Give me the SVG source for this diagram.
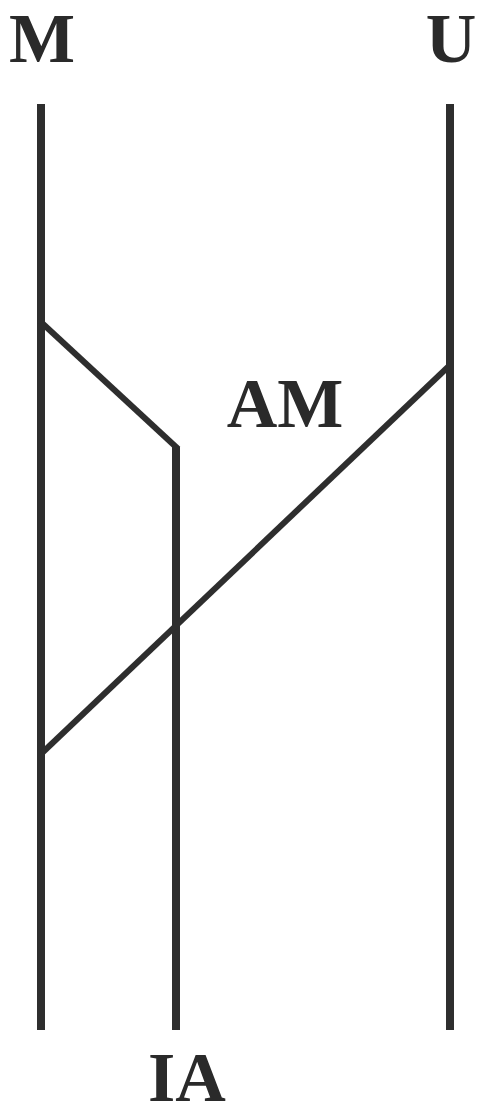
<svg xmlns="http://www.w3.org/2000/svg" width="477" height="1117" viewBox="0 0 477 1117">
<style>
.lbl{font-family:"Liberation Serif","Times New Roman",serif;font-weight:bold;font-size:70px;fill:#2a2a2a}
.ln{stroke:#2e2e2e;fill:none;stroke-width:8}
.dg{stroke:#2e2e2e;fill:none;stroke-width:6}
</style>
<rect width="477" height="1117" fill="#ffffff"/>
<g id="M"><line class="ln" x1="41" y1="104" x2="41" y2="1030"/><text class="lbl" x="42" y="62" text-anchor="middle">M</text></g>
<g id="U"><line class="ln" x1="450" y1="104" x2="450" y2="1030"/><text class="lbl" x="451" y="62" text-anchor="middle">U</text></g>
<g id="IA"><line class="ln" x1="176" y1="447" x2="176" y2="1030"/><text class="lbl" x="187" y="1101" text-anchor="middle">IA</text></g>
<g id="connectors">
<polyline class="dg" points="42,323 176,447" stroke-linecap="square"/>
<line class="dg" x1="42" y1="753" x2="449" y2="366"/>
<text class="lbl" x="285" y="427" text-anchor="middle">AM</text>
</g>
</svg>
